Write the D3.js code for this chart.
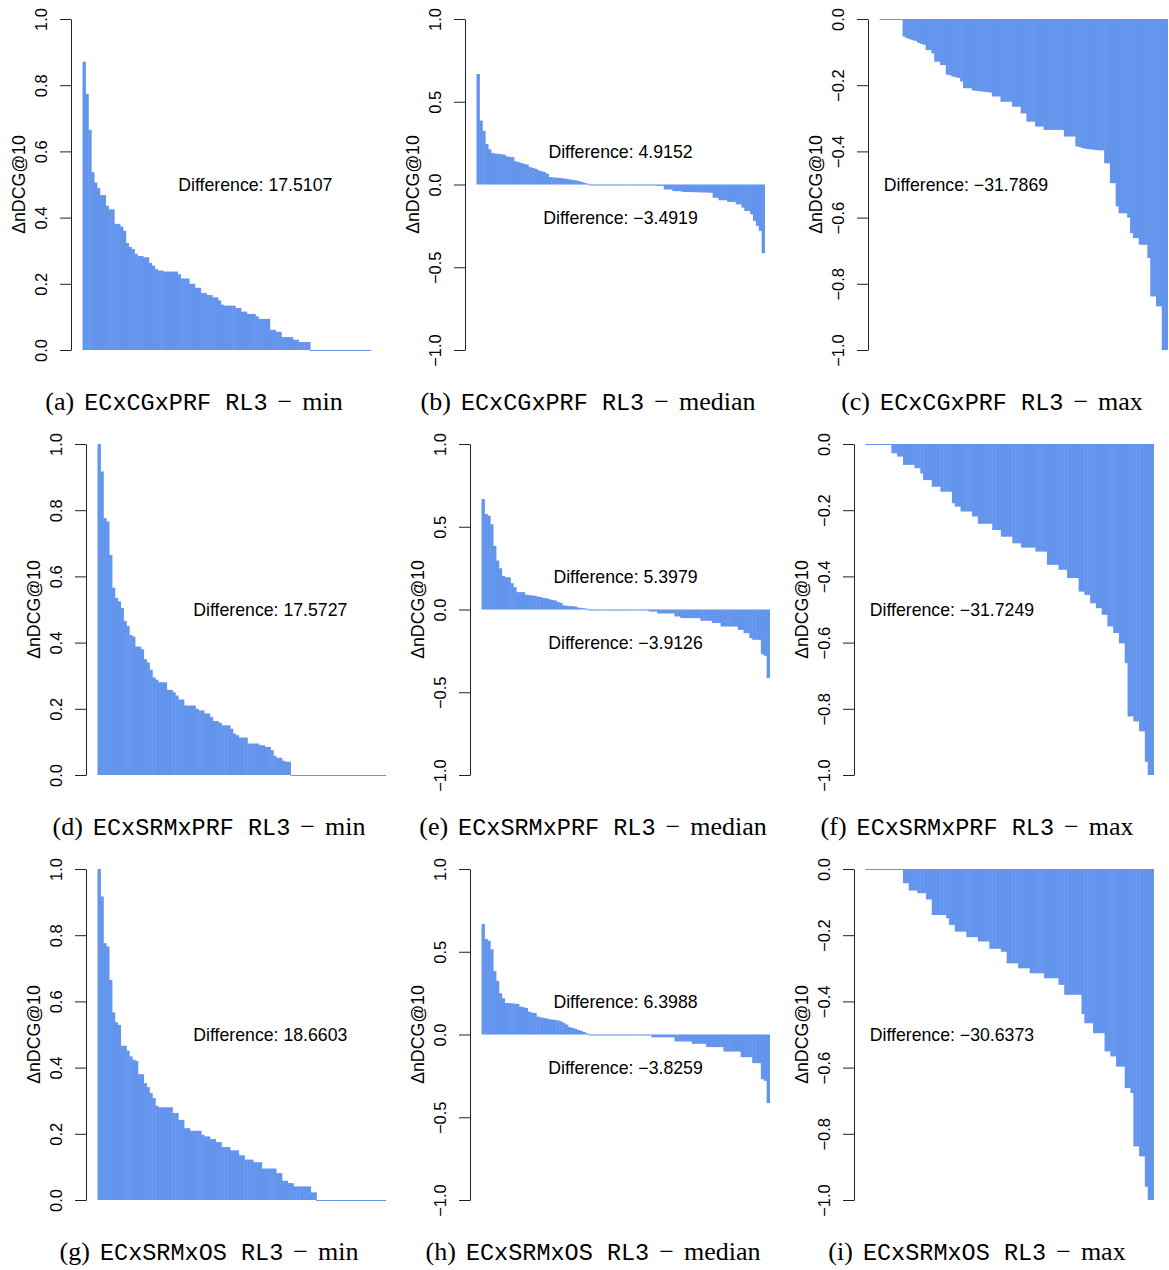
<!DOCTYPE html>
<html>
<head>
<meta charset="utf-8">
<script src="https://d3js.org/d3.v7.min.js"></script>
<style>
  body { margin: 0; background: #fff; }
  .bar { fill: #6495ED; }
  .axis path, .axis line { stroke: #222; stroke-width: 1px; }
  .axis text { font-family: "Liberation Sans", Arial, sans-serif; font-size: 16.5px; fill: #000; }
  .ylab, .note { font-family: "Liberation Sans", Arial, sans-serif; font-size: 17.7px; fill: #000; }
  .cap { font-family: "Liberation Serif", serif; font-size: 26px; fill: #000; }
  .cap .tt { font-family: "Liberation Mono", monospace; font-size: 23.5px; }
</style>
</head>
<body>
<svg id="fig" width="1169" height="1270"></svg>
<script>

// per-query delta nDCG@10, sorted, 100 queries per run
const minA = [0.871,0.774,0.665,0.537,0.506,0.489,0.468,0.468,0.436,0.425,
  0.425,0.381,0.381,0.373,0.360,0.323,0.311,0.305,0.291,0.284,
  0.284,0.280,0.280,0.263,0.255,0.245,0.240,0.240,0.237,0.237,
  0.237,0.237,0.237,0.229,0.216,0.216,0.216,0.200,0.200,0.188,
  0.188,0.172,0.172,0.166,0.166,0.159,0.159,0.150,0.137,0.134,
  0.134,0.134,0.134,0.127,0.127,0.116,0.116,0.109,0.109,0.109,
  0.102,0.094,0.094,0.094,0.094,0.061,0.061,0.055,0.055,0.039,
  0.039,0.039,0.039,0.031,0.031,0.024,0.024,0.024,0.024,0,
  0,0,0,0,0,0,0,0,0,0,
  0,0,0,0,0,0,0,0,0,0];

const medB = [0.668,0.386,0.324,0.245,0.213,0.19,0.187,0.185,0.183,0.18,
  0.17,0.167,0.165,0.14,0.135,0.13,0.125,0.12,0.105,0.1,
  0.095,0.085,0.08,0.075,0.065,0.045,0.043,0.042,0.04,0.038,
  0.036,0.033,0.03,0.028,0.025,0.02,0.015,0.01,0.005,0,
  0,0,0,0,0,0,0,0,0,0,
  0,0,0,0,0,0,0,0,0,0,
  0,0,-0.008,-0.008,-0.008,-0.03,-0.03,-0.03,-0.04,-0.04,
  -0.04,-0.044,-0.045,-0.045,-0.046,-0.046,-0.047,-0.047,-0.048,-0.048,
  -0.049,-0.05,-0.08,-0.08,-0.095,-0.095,-0.095,-0.105,-0.105,-0.105,
  -0.12,-0.12,-0.14,-0.16,-0.16,-0.18,-0.22,-0.25,-0.28,-0.415];

const maxC = [0,0,0,0,0,0,0,0,-0.053,-0.058,
  -0.061,-0.064,-0.066,-0.072,-0.075,-0.078,-0.094,-0.094,-0.104,-0.129,
  -0.129,-0.139,-0.139,-0.168,-0.17,-0.174,-0.176,-0.178,-0.189,-0.209,
  -0.209,-0.209,-0.216,-0.217,-0.218,-0.219,-0.22,-0.221,-0.222,-0.234,
  -0.234,-0.234,-0.25,-0.25,-0.25,-0.25,-0.265,-0.265,-0.265,-0.285,
  -0.285,-0.31,-0.31,-0.31,-0.325,-0.325,-0.325,-0.335,-0.335,-0.335,
  -0.335,-0.335,-0.335,-0.335,-0.355,-0.355,-0.355,-0.355,-0.385,-0.387,
  -0.39,-0.392,-0.393,-0.394,-0.395,-0.396,-0.397,-0.397,-0.436,-0.436,
  -0.496,-0.496,-0.566,-0.587,-0.587,-0.587,-0.6,-0.647,-0.662,-0.662,
  -0.682,-0.682,-0.682,-0.722,-0.838,-0.838,-0.868,-0.868,-1,-1];

const minD = [1.0,0.917,0.776,0.766,0.665,0.566,0.535,0.525,0.505,0.465,
  0.45,0.423,0.418,0.388,0.388,0.38,0.35,0.34,0.318,0.295,
  0.288,0.28,0.28,0.28,0.257,0.257,0.25,0.24,0.228,0.228,
  0.21,0.21,0.21,0.21,0.2,0.195,0.195,0.186,0.186,0.175,
  0.163,0.163,0.158,0.15,0.15,0.15,0.14,0.125,0.12,0.113,
  0.113,0.113,0.095,0.095,0.095,0.095,0.09,0.09,0.085,0.085,
  0.075,0.058,0.052,0.052,0.043,0.04,0.04,0,0,0,
  0,0,0,0,0,0,0,0,0,0,
  0,0,0,0,0,0,0,0,0,0,
  0,0,0,0,0,0,0,0,0,0];

const medE = [0.668,0.577,0.567,0.515,0.384,0.296,0.249,0.203,0.195,0.195,
  0.159,0.135,0.105,0.105,0.105,0.089,0.087,0.085,0.083,0.078,
  0.075,0.07,0.068,0.062,0.058,0.055,0.045,0.04,0.025,0.022,
  0.02,0.02,0.018,0.012,0.01,0.008,0.005,0,0,0,
  0,0,0,0,0,0,0,0,0,0,
  0,0,0,0,0,0,0,0,-0.012,-0.012,
  -0.012,-0.024,-0.024,-0.024,-0.024,-0.024,-0.024,-0.042,-0.042,-0.052,
  -0.052,-0.052,-0.052,-0.052,-0.052,-0.052,-0.068,-0.068,-0.068,-0.068,
  -0.082,-0.082,-0.082,-0.103,-0.103,-0.103,-0.103,-0.103,-0.103,-0.123,
  -0.123,-0.143,-0.143,-0.173,-0.183,-0.183,-0.183,-0.27,-0.28,-0.414];

const maxF = [0,0,0,0,0,0,0,0,0,-0.028,
  -0.028,-0.038,-0.038,-0.063,-0.063,-0.063,-0.063,-0.073,-0.073,-0.089,
  -0.109,-0.109,-0.109,-0.129,-0.129,-0.129,-0.144,-0.144,-0.144,-0.144,
  -0.179,-0.189,-0.189,-0.204,-0.204,-0.204,-0.204,-0.219,-0.219,-0.241,
  -0.241,-0.241,-0.241,-0.241,-0.26,-0.26,-0.26,-0.28,-0.28,-0.28,
  -0.28,-0.3,-0.3,-0.3,-0.313,-0.313,-0.313,-0.313,-0.313,-0.325,
  -0.325,-0.325,-0.325,-0.365,-0.365,-0.365,-0.365,-0.38,-0.38,-0.38,
  -0.405,-0.405,-0.405,-0.405,-0.446,-0.446,-0.456,-0.456,-0.481,-0.481,
  -0.496,-0.496,-0.516,-0.516,-0.551,-0.551,-0.571,-0.571,-0.602,-0.602,
  -0.662,-0.823,-0.823,-0.838,-0.838,-0.868,-0.868,-0.96,-1,-1];

const minG = [1.0,0.917,0.776,0.766,0.665,0.567,0.537,0.529,0.466,0.466,
  0.451,0.434,0.424,0.42,0.38,0.38,0.353,0.341,0.323,0.308,
  0.285,0.28,0.28,0.28,0.28,0.28,0.263,0.263,0.242,0.242,
  0.217,0.217,0.209,0.209,0.209,0.209,0.197,0.192,0.192,0.184,
  0.184,0.175,0.175,0.16,0.16,0.16,0.15,0.15,0.15,0.135,
  0.135,0.122,0.122,0.122,0.114,0.114,0.114,0.095,0.095,0.095,
  0.095,0.095,0.081,0.081,0.058,0.058,0.051,0.051,0.041,0.041,
  0.041,0.041,0.041,0.041,0.023,0.023,0,0,0,0,
  0,0,0,0,0,0,0,0,0,0,
  0,0,0,0,0,0,0,0,0,0];

const medH = [0.668,0.577,0.567,0.515,0.384,0.324,0.249,0.219,0.19,0.19,
  0.188,0.186,0.185,0.168,0.165,0.16,0.138,0.132,0.13,0.108,
  0.104,0.1,0.097,0.092,0.09,0.088,0.085,0.08,0.07,0.06,
  0.045,0.04,0.035,0.028,0.022,0.015,0.008,0,0,0,
  0,0,0,0,0,0,0,0,0,0,
  0,0,0,0,0,0,0,0,0,-0.017,
  -0.017,-0.017,-0.017,-0.017,-0.017,-0.017,-0.017,-0.042,-0.042,-0.042,
  -0.042,-0.042,-0.042,-0.056,-0.056,-0.056,-0.056,-0.056,-0.076,-0.076,
  -0.076,-0.076,-0.076,-0.076,-0.103,-0.103,-0.103,-0.103,-0.103,-0.103,
  -0.137,-0.137,-0.137,-0.137,-0.173,-0.173,-0.173,-0.27,-0.28,-0.414];

const maxI = [0,0,0,0,0,0,0,0,0,0,
  0,0,0,-0.043,-0.043,-0.065,-0.065,-0.065,-0.073,-0.073,
  -0.073,-0.092,-0.092,-0.139,-0.139,-0.139,-0.139,-0.139,-0.149,-0.169,
  -0.169,-0.189,-0.189,-0.189,-0.189,-0.206,-0.206,-0.206,-0.206,-0.219,
  -0.219,-0.219,-0.219,-0.241,-0.241,-0.241,-0.241,-0.25,-0.25,-0.285,
  -0.285,-0.285,-0.285,-0.3,-0.3,-0.3,-0.3,-0.315,-0.315,-0.315,
  -0.315,-0.315,-0.33,-0.33,-0.33,-0.33,-0.33,-0.35,-0.35,-0.38,
  -0.38,-0.38,-0.38,-0.38,-0.38,-0.438,-0.466,-0.466,-0.466,-0.496,
  -0.496,-0.496,-0.496,-0.551,-0.551,-0.566,-0.566,-0.597,-0.597,-0.597,
  -0.662,-0.662,-0.677,-0.838,-0.838,-0.868,-0.868,-0.96,-1,-1];

// printed sums (positive / negative part)
const posDiff = [17.5107, 4.9152, null, 17.5727, 5.3979, null, 18.6603, 6.3988, null];
const negDiff = [null, -3.4919, -31.7869, null, -3.9126, -31.7249, null, -3.8259, -30.6373];

const runNames = ["ECxCGxPRF RL3", "ECxSRMxPRF RL3", "ECxSRMxOS RL3"];
const statNames = ["min", "median", "max"];
const letters = ["a","b","c","d","e","f","g","h","i"];
const series = [minA, medB, maxC, minD, medE, maxF, minG, medH, maxI];

const tickMin = [0, 0.2, 0.4, 0.6, 0.8, 1.0];
const tickMed = [-1.0, -0.5, 0, 0.5, 1.0];
const tickMax = [-1.0, -0.8, -0.6, -0.4, -0.2, 0];

// layout
const rowTop = [19, 444, 869];
const axisX = [[71, 465, 868], [86, 470, 854], [86, 470, 854]];
const capX = [[194, 588, 992], [209, 593, 977], [209, 593, 977]];
const axisLen = 331;
const barPad = 11.5;
const barSpan = 288;

const colCfg = [
  { ylim: [0, 1], ticks: tickMin, notePos: [[60, 0.5]], negPos: null },
  { ylim: [-1, 1], ticks: tickMed, notePos: [[50, 0.2]], negPos: [50, -0.2] },
  { ylim: [-1, 0], ticks: tickMax, notePos: null, negPos: [30, -0.5] }
];

const svg = d3.select("#fig");
const fmt = d3.format(".4f");

for (let r = 0; r < 3; r++) {
  for (let c = 0; c < 3; c++) {
    const k = r * 3 + c;
    const vals = series[k];
    const cfg = colCfg[c];
    const ax = axisX[r][c];
    const top = rowTop[r];
    const bottom = top + axisLen;

    const x = d3.scaleLinear().domain([0, vals.length]).range([ax + barPad, ax + barPad + barSpan]);
    const y = d3.scaleLinear().domain(cfg.ylim).range([bottom, top]);

    const g = svg.append("g");

    g.selectAll("rect.bar").data(vals)
      .join("rect")
      .attr("class", "bar")
      .attr("x", (d, i) => x(i))
      .attr("width", (d, i) => x(i + 1) - x(i) + 0.5)
      .attr("y", d => Math.min(y(d), y(0)))
      .attr("height", d => Math.max(Math.abs(y(d) - y(0)), 1));

    const axis = g.append("g")
      .attr("class", "axis")
      .attr("transform", "translate(" + ax + ",0)")
      .call(d3.axisLeft(y).tickValues(cfg.ticks).tickSize(11).tickSizeOuter(0).tickFormat(d3.format(".1f")));
    axis.attr("font-family", null).attr("font-size", null);
    axis.selectAll(".tick text")
      .attr("x", 0).attr("dy", null)
      .attr("text-anchor", "middle")
      .attr("transform", "translate(-24,0) rotate(-90)");

    g.append("text")
      .attr("class", "ylab")
      .attr("text-anchor", "middle")
      .attr("transform", "translate(" + (ax - 46) + "," + (top + bottom) / 2 + ") rotate(-90)")
      .text("\u0394nDCG@10");

    if (posDiff[k] !== null) {
      const p = cfg.notePos[0];
      g.append("text").attr("class", "note")
        .attr("x", x(p[0])).attr("y", y(p[1])).attr("dy", "0.36em")
        .attr("text-anchor", "middle")
        .text("Difference: " + fmt(posDiff[k]));
    }
    if (negDiff[k] !== null) {
      const p = cfg.negPos;
      g.append("text").attr("class", "note")
        .attr("x", x(p[0])).attr("y", y(p[1])).attr("dy", "0.36em")
        .attr("text-anchor", "middle")
        .text("Difference: " + fmt(negDiff[k]));
    }

    const cap = svg.append("text")
      .attr("class", "cap")
      .attr("x", capX[r][c])
      .attr("y", bottom + 60)
      .attr("text-anchor", "middle");
    cap.append("tspan").text("(" + letters[k] + ")");
    cap.append("tspan").attr("class", "tt").attr("dx", 10).text(runNames[r]);
    cap.append("tspan").attr("dx", 10).text("\u2212");
    cap.append("tspan").attr("dx", 10).text(statNames[c]);
  }
}

</script>
</body>
</html>
